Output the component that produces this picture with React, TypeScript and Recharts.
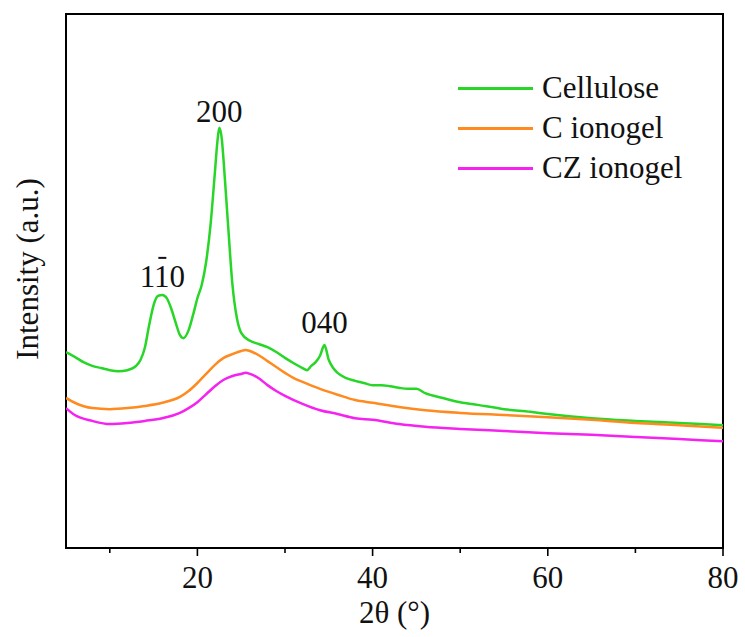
import {
  LineChart,
  Line,
  XAxis,
  YAxis,
  ReferenceArea,
  ReferenceDot,
} from "recharts";

const FONT = "'Times New Roman', 'Liberation Serif', 'DejaVu Serif', serif";
const FS = 31;

// XRD patterns, intensity in arbitrary units
const celluloseTheta = [
  5, 6, 7, 8, 9, 10, 11, 12, 13, 13.5, 14, 14.5, 15, 15.5, 16, 16.5, 17, 17.5, 18, 18.4, 19, 19.5,
  20, 20.5, 21, 21.5, 22, 22.3, 22.5, 22.8, 23, 23.5, 24, 24.5, 25, 26, 27, 28, 29, 30, 31, 32, 32.5,
  33, 33.5, 34, 34.5, 35, 35.5, 36, 37, 38, 39, 40, 41, 42, 43, 44, 45, 46, 48, 50, 52, 55, 58, 60,
  65, 70, 75, 80,
];
const celluloseIntensity = [
  367, 358, 348, 341, 337, 333, 331, 333, 341, 352, 375, 418, 455, 472, 474, 468, 449, 423, 399, 393,
  408, 436, 468, 493, 536, 605, 704, 764, 787, 764, 723, 605, 493, 431, 403, 388, 382, 376, 367, 356,
  346, 337, 333, 341, 348, 360, 380, 352, 337, 328, 318, 313, 309, 305, 305, 303, 300, 298, 298, 290,
  281, 273, 268, 260, 255, 251, 243, 238, 234, 230,
];

const cIonogelTheta = [
  5, 6, 8, 10, 12, 14, 16, 18, 19, 20, 21, 22, 23, 24, 25, 25.5, 26, 27, 28, 29, 30, 31, 32, 34, 36,
  38, 40, 43, 46, 50, 55, 60, 65, 70, 75, 80,
];
const cIonogelIntensity = [
  281, 272, 262, 260, 262, 266, 272, 283, 294, 309, 326, 343, 356, 363, 369, 371, 369, 361, 350, 339,
  328, 318, 311, 298, 287, 277, 272, 264, 258, 253, 249, 245, 240, 234, 230, 225,
];

const czIonogelTheta = [
  5, 6, 8, 10, 12, 14, 16, 18, 19, 20, 21, 22, 23, 24, 25, 25.5, 26, 27, 28, 29, 30, 32, 34, 36, 38,
  40, 43, 46, 50, 55, 60, 65, 70, 75, 80,
];
const czIonogelIntensity = [
  262, 249, 238, 232, 234, 238, 243, 253, 262, 273, 288, 303, 315, 322, 326, 328, 326, 318, 305, 294,
  285, 270, 258, 251, 243, 240, 232, 227, 223, 219, 215, 212, 208, 204, 200,
];

const seriesNames = ["Cellulose", "C ionogel", "CZ ionogel"];
const seriesColors = ["#27d627", "#ff8a1f", "#f522f0"];

const xTicks = [10, 20, 30, 40, 50, 60, 70, 80];
const xLabelled = [20, 40, 60, 80];

const toRows = (theta: number[], intensity: number[]) =>
  theta.map((t, i) => ({ theta: t, intensity: intensity[i] }));

const series = [
  toRows(celluloseTheta, celluloseIntensity),
  toRows(cIonogelTheta, cIonogelIntensity),
  toRows(czIonogelTheta, czIonogelIntensity),
];

function XTick(props: any) {
  const { x, y, payload } = props;
  const major = xLabelled.includes(payload.value);
  return (
    <g>
      <line x1={x} y1={y} x2={x} y2={y + (major ? 8 : 5)} stroke="#000" strokeWidth={1.6} />
      {major && (
        <text x={x} y={y + 40} textAnchor="middle" fontSize={FS} fontFamily={FONT} fill="#111">
          {payload.value}
        </text>
      )}
    </g>
  );
}

// (1-10) reflection: overbar on the middle digit
function MillerLabel(props: any) {
  const { viewBox } = props;
  const cx = viewBox.x + (viewBox.width || 0) / 2;
  const top = viewBox.y;
  return (
    <g>
      <text x={cx} y={top - 8} textAnchor="middle" fontSize={FS} fontFamily={FONT} fill="#111">
        110
      </text>
      <line x1={cx - 4} y1={top - 37} x2={cx + 4} y2={top - 37} stroke="#111" strokeWidth={2} />
    </g>
  );
}

export default function App() {
  return (
    <div style={{ position: "absolute", left: 0, top: 0, width: 745, height: 637, background: "#fff" }}>
      <LineChart width={745} height={637} margin={{ top: 14, right: 22, left: 0, bottom: 0 }}>
        <XAxis
          dataKey="theta"
          type="number"
          domain={[5, 80]}
          ticks={xTicks}
          allowDataOverflow
          axisLine={false}
          tickLine={false}
          tickSize={0}
          tickMargin={0}
          height={89}
          tick={<XTick />}
          label={{
            content: (p: any) => (
              <text
                x={p.viewBox.x + p.viewBox.width / 2}
                y={p.viewBox.y + 75}
                textAnchor="middle"
                fontSize={FS}
                fontFamily={FONT}
                fill="#111"
              >
                2θ (°)
              </text>
            ),
          }}
        />
        <YAxis
          type="number"
          domain={[0, 1000]}
          width={66}
          tick={false}
          axisLine={false}
          tickLine={false}
          label={{
            content: (p: any) => {
              const cx = 27;
              const cy = p.viewBox.y + p.viewBox.height / 2 - 12;
              return (
                <text
                  x={cx}
                  y={cy}
                  transform={`rotate(-90, ${cx}, ${cy})`}
                  textAnchor="middle"
                  dominantBaseline="central"
                  fontSize={FS}
                  fontFamily={FONT}
                  fill="#111"
                >
                  Intensity (a.u.)
                </text>
              );
            },
          }}
        />
        <ReferenceArea x1={5} x2={80} y1={0} y2={1000} fill="none" stroke="#000" strokeWidth={2} />
        {series.map((rows, i) => (
          <Line
            key={seriesNames[i]}
            data={rows}
            dataKey="intensity"
            name={seriesNames[i]}
            type="monotone"
            stroke={seriesColors[i]}
            strokeWidth={2.5}
            dot={false}
            isAnimationActive={false}
          />
        ))}
        <ReferenceDot
          x={22.5}
          y={787}
          r={0}
          fill="none"
          stroke="none"
          label={{ value: "200", position: "top", offset: 6, fontSize: FS, fontFamily: FONT, fill: "#111" }}
        />
        <ReferenceDot
          x={34.5}
          y={380}
          r={0}
          fill="none"
          stroke="none"
          label={{ value: "040", position: "top", offset: 12, fontSize: FS, fontFamily: FONT, fill: "#111" }}
        />
        <ReferenceDot x={16} y={474} r={0} fill="none" stroke="none" label={<MillerLabel />} />
      </LineChart>
      <div style={{ position: "absolute", left: 458, top: 68, fontFamily: FONT, fontSize: FS, color: "#111" }}>
        {seriesNames.map((name, i) => (
          <div key={name} style={{ display: "flex", alignItems: "center", height: 40 }}>
            <div style={{ width: 75, height: 3, background: seriesColors[i], marginRight: 9 }} />
            <span>{name}</span>
          </div>
        ))}
      </div>
    </div>
  );
}
